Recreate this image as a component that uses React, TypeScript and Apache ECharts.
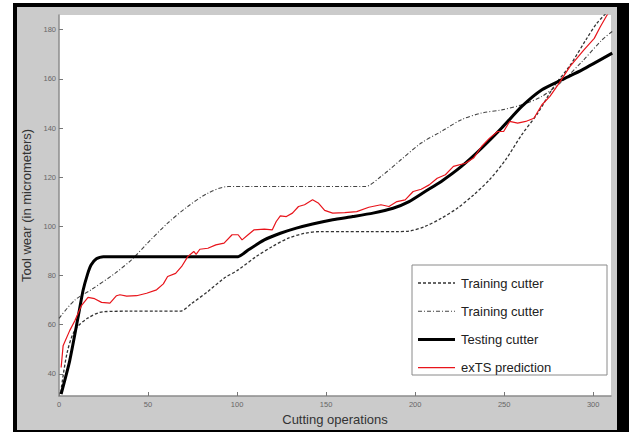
import React, { useEffect, useRef } from "react";
import * as echarts from "echarts";

// ---- data ----
const train1X = [1, 4.5, 9, 16, 25, 40, 55, 68, 74.6, 83.6, 92.7, 100.6, 110.7, 119.8, 128.8, 137.9, 147, 160, 175, 190, 196.6, 205.6, 214.7, 223.7, 232.8, 241.8, 250.8, 259.9, 268.9, 278, 287, 296, 302, 309];
const train1Y = [32.5, 48.4, 57.9, 62.6, 65.3, 65.5, 65.5, 65.5, 68.7, 73.5, 78.9, 82.3, 87.7, 91.8, 95.2, 97.2, 97.9, 97.9, 97.9, 97.9, 98.1, 100, 103.3, 107.4, 112.8, 119, 127.1, 137.3, 146.1, 157, 165.5, 176, 182.6, 188];

const train2X = [0, 9, 18, 31.6, 40.7, 49.7, 61, 72.3, 83.6, 94.9, 110, 130, 150, 171.8, 180.8, 192, 203.4, 214.7, 226, 237.3, 248.6, 259.9, 271.2, 282.5, 293.8, 305, 310.7];
const train2Y = [62.6, 70.1, 74.2, 81, 86.4, 93.2, 101.3, 108.1, 113.5, 116.2, 116.2, 116.2, 116.2, 116.2, 120.3, 127.1, 133.9, 138.6, 143.4, 146.1, 147.4, 149.5, 152.9, 159, 167.1, 175.9, 179.3];

const testX = [1.2, 6, 10.7, 13.5, 16, 18, 21, 24.9, 50, 75, 100.6, 106.2, 115.3, 124.3, 133.3, 142.4, 153.7, 165, 176.3, 187.6, 196.6, 205.6, 214.7, 226, 237.3, 248.6, 259.9, 271.2, 282.5, 293.8, 310.7];
const testY = [31.8, 45.3, 63, 73.9, 80.5, 84.3, 86.8, 87.7, 87.7, 87.7, 87.7, 90.4, 94.5, 97.2, 99.3, 101, 102.7, 104, 105.4, 107.4, 110.1, 114.2, 118.3, 124.4, 131.8, 140, 148.8, 155.6, 159.7, 163.7, 170.5];

const predX = [1.2, 2.3, 6, 8.9, 12.6, 16.3, 20, 23.9, 28.6, 32.3, 34.2, 38, 43.6, 49.2, 54.8, 58.6, 61, 65.5, 68.9, 72.3, 75.7, 77, 79.1, 83.6, 88.1, 92.7, 97.2, 100.6, 102.8, 106.2, 109.6, 115.3, 119.8, 122, 124.3, 127.7, 131.1, 134.5, 137.9, 142.4, 145.8, 149.2, 153.7, 160.5, 167.2, 174, 180.8, 185.3, 189.8, 194.4, 198.9, 203.4, 207.9, 212.4, 217, 221.5, 228.2, 232.8, 237.3, 241.8, 246.3, 249.7, 253.1, 257.6, 262.1, 266.7, 271.2, 275.7, 280.2, 287, 294.8, 300.6, 304, 307.3, 308.5];
const predY = [42.6, 51.4, 57.6, 61.6, 67.8, 71.1, 70.6, 69.1, 68.8, 71.8, 72.2, 71.6, 71.8, 72.8, 74.2, 76.6, 79.6, 80.9, 83.7, 87.7, 89.8, 88.6, 90.7, 91.1, 92.5, 93.2, 96.6, 96.6, 94.5, 96.6, 98.6, 98.9, 98.6, 102, 104.3, 104, 105.4, 108.1, 108.8, 110.8, 109.4, 106.5, 105.4, 105.6, 106, 107.8, 108.8, 108.1, 110.1, 110.8, 114.2, 115.1, 116.9, 119.6, 121, 124.4, 125.7, 127.8, 132.5, 135.9, 138.6, 138.6, 142.7, 142, 142.7, 144, 149.5, 152.9, 157.6, 165.1, 171.8, 176.5, 181.2, 185.4, 186.8];

const xTicks = [0, 50, 100, 150, 200, 250, 300];
const yTicks = [40, 60, 80, 100, 120, 140, 160, 180];

const legendNames = ["Training cutter", "Training cutter", "Testing cutter", "exTS prediction"];

const zip = (xs: number[], ys: number[]) => xs.map((x, i) => [x, ys[i]]);

const FONT = "Liberation Sans, Arial, sans-serif";

export default function App() {
  const ref = useRef<HTMLDivElement>(null);

  useEffect(() => {
    if (!ref.current) return;
    const chart = echarts.init(ref.current, undefined, { renderer: "svg" });

    const legendStyles = [
      { stroke: "#333", lineWidth: 1.3, lineDash: [3, 2] },
      { stroke: "#444", lineWidth: 1.1, lineDash: [4, 2, 1, 2] },
      { stroke: "#000", lineWidth: 3, lineDash: null as any },
      { stroke: "#e8141b", lineWidth: 1.2, lineDash: null as any },
    ];
    const lx = 412, ly = 265, lw = 195, lh = 110;
    const legendEls: any[] = [
      {
        type: "rect",
        shape: { x: lx, y: ly, width: lw, height: lh },
        style: { fill: "#fff", stroke: "#8a8a8a", lineWidth: 1 },
        z: 100,
      },
    ];
    legendNames.forEach((name, i) => {
      const cy = 283 + i * 28.2;
      legendEls.push({
        type: "line",
        shape: { x1: 418, y1: cy, x2: 455, y2: cy },
        style: legendStyles[i],
        z: 101,
      });
      legendEls.push({
        type: "text",
        x: 461,
        y: cy,
        style: {
          text: name,
          fill: "#222",
          font: `13px ${FONT}`,
          verticalAlign: "middle",
          align: "left",
        },
        z: 101,
      });
    });

    chart.setOption({
      animation: false,
      grid: {
        left: 59,
        right: 18,
        top: 15,
        bottom: 36,
        show: true,
        backgroundColor: "#fff",
        borderWidth: 0,
      },
      xAxis: {
        type: "value",
        min: 0,
        max: 310,
        name: "Cutting operations",
        nameLocation: "middle",
        nameGap: 12,
        nameTextStyle: { color: "#333", fontSize: 13, fontFamily: FONT, verticalAlign: "top" },
        axisLine: { show: true, lineStyle: { color: "#8c8c8c", width: 1.5 } },
        axisTick: { show: true, inside: true, length: 4, customValues: xTicks, lineStyle: { color: "#777" } },
        axisLabel: { customValues: xTicks, color: "#666", fontSize: 7.5, fontFamily: FONT, margin: 4 },
        splitLine: { show: false },
      },
      yAxis: {
        type: "value",
        min: 31,
        max: 186,
        name: "Tool wear (in micrometers)",
        nameLocation: "middle",
        nameGap: 19,
        nameTextStyle: { color: "#333", fontSize: 13, fontFamily: FONT },
        axisLine: { show: true, lineStyle: { color: "#8c8c8c", width: 1.5 } },
        axisTick: { show: true, inside: true, length: 4, customValues: yTicks, lineStyle: { color: "#777" } },
        axisLabel: { customValues: yTicks, color: "#666", fontSize: 7.5, fontFamily: FONT, margin: 3 },
        splitLine: { show: false },
      },
      series: [
        {
          type: "line",
          name: "Training cutter A",
          data: zip(train1X, train1Y),
          showSymbol: false,
          smooth: 0.3,
          clip: true,
          lineStyle: { color: "#333", width: 1.3, type: [3, 2] },
        },
        {
          type: "line",
          name: "Training cutter B",
          data: zip(train2X, train2Y),
          showSymbol: false,
          smooth: 0.3,
          clip: true,
          lineStyle: { color: "#444", width: 1.1, type: [4, 2, 1, 2] },
        },
        {
          type: "line",
          name: "Testing cutter",
          data: zip(testX, testY),
          showSymbol: false,
          smooth: 0.2,
          clip: true,
          lineStyle: { color: "#000", width: 3 },
        },
        {
          type: "line",
          name: "exTS prediction",
          data: zip(predX, predY),
          showSymbol: false,
          clip: true,
          lineStyle: { color: "#e8141b", width: 1.2 },
        },
      ],
      graphic: legendEls,
    });

    return () => chart.dispose();
  }, []);

  return (
    <div style={{ position: "fixed", left: 0, top: 0, width: 629, height: 432, background: "#fff" }}>
      <div style={{ position: "absolute", left: 13, top: 3, width: 616, height: 429, background: "#000" }} />
      <div style={{ position: "absolute", left: 17, top: 7, width: 600, height: 423, background: "#cbcbcb" }} />
      <div ref={ref} style={{ position: "absolute", left: 0, top: 0, width: 629, height: 432 }} />
    </div>
  );
}
